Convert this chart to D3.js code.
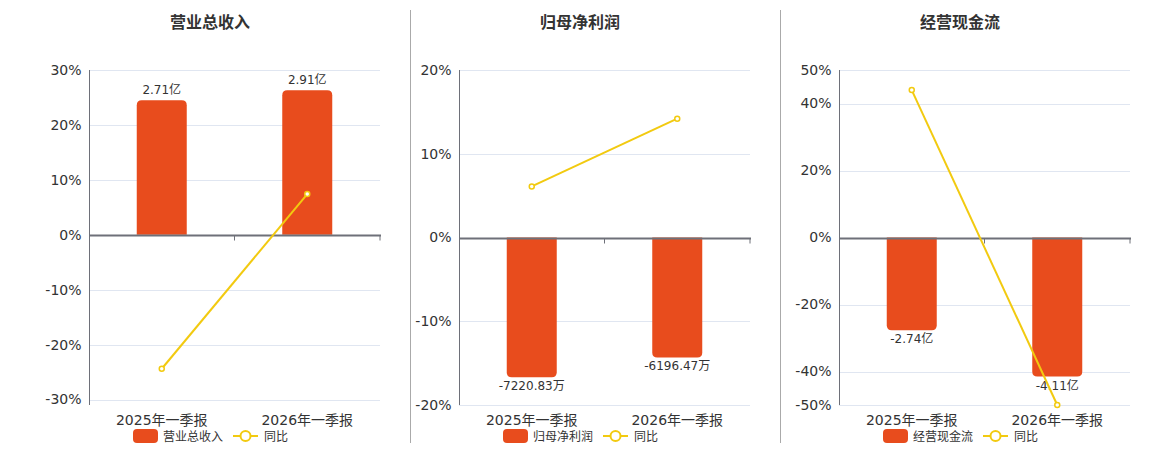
<!DOCTYPE html>
<html>
<head>
<meta charset="utf-8">
<script src="https://cdn.jsdelivr.net/npm/d3@7"></script>
<style>
  body { margin: 0; background: #fff; }
  svg { display: block; font-family: "DejaVu Sans", "Noto Sans CJK SC", sans-serif; }
</style>
</head>
<body>
<div id="chart"></div>
<script>
// 公共类目
const categories = ["2025年一季报", "2026年一季报"];

// 营业总收入（亿）
const revenueValues = [2.71, 2.91];
const revenueLabels = ["2.71亿", "2.91亿"];
const revenueYoy = [-24.4, 7.4];
const revenueTicks = [-30, -20, -10, 0, 10, 20, 30];

// 归母净利润（万）
const profitValues = [-7220.83, -6196.47];
const profitLabels = ["-7220.83万", "-6196.47万"];
const profitYoy = [6.1, 14.19];
const profitTicks = [-20, -10, 0, 10, 20];

// 经营现金流（亿）
const cashValues = [-2.74, -4.11];
const cashLabels = ["-2.74亿", "-4.11亿"];
const cashYoy = [44, -50];
const cashTicks = [-50, -40, -20, 0, 20, 40, 50];

const width = 1160, height = 450;
const barColor = "#e84c1d";
const lineColor = "#f2ca10";
const textColor = "#333";

const svg = d3.select("#chart").append("svg")
    .attr("width", width)
    .attr("height", height);

// 面板配置（位置与坐标范围）
const panels = [
    { title: "营业总收入", left: 89, pctDomain: [-31, 30], barDomain: [-3.43, 3.32],
      values: revenueValues, labels: revenueLabels, yoy: revenueYoy, ticks: revenueTicks },
    { title: "归母净利润", left: 459, pctDomain: [-20, 20], barDomain: [-8650, 8650],
      values: profitValues, labels: profitLabels, yoy: profitYoy, ticks: profitTicks },
    { title: "经营现金流", left: 839, pctDomain: [-50, 50], barDomain: [-4.95, 4.95],
      values: cashValues, labels: cashLabels, yoy: cashYoy, ticks: cashTicks }
];

const plotWidth = 291, plotTop = 70, plotBottom = 405;

// 面板之间的分隔线
[410.5, 780.5].forEach(x => {
    svg.append("line")
        .attr("x1", x).attr("x2", x)
        .attr("y1", 10).attr("y2", 443)
        .attr("stroke", "#aaa")
        .attr("stroke-width", 1);
});

// 圆角柱子路径（远离零线的一端为圆角）
function barPath(x, y0, y1, w, r) {
    const up = y1 < y0;
    const h = Math.abs(y1 - y0);
    r = Math.min(r, h, w / 2);
    if (up) {
        return `M${x},${y0} V${y1 + r} Q${x},${y1} ${x + r},${y1} H${x + w - r} Q${x + w},${y1} ${x + w},${y1 + r} V${y0} Z`;
    }
    return `M${x},${y0} V${y1 - r} Q${x},${y1} ${x + r},${y1} H${x + w - r} Q${x + w},${y1} ${x + w},${y1 - r} V${y0} Z`;
}

function drawPanel(p) {
    const g = svg.append("g");
    const x0 = p.left, x1 = p.left + plotWidth;

    const x = d3.scaleBand().domain(categories).range([x0, x1]);
    const y = d3.scaleLinear().domain(p.pctDomain).range([plotBottom, plotTop]);
    const yBar = d3.scaleLinear().domain(p.barDomain).range([plotBottom, plotTop]);

    // 标题
    g.append("text")
        .attr("x", x0 + 121).attr("y", 28)
        .attr("text-anchor", "middle")
        .attr("font-size", 16).attr("font-weight", "bold")
        .attr("fill", textColor)
        .text(p.title);

    // 网格线
    g.selectAll(".grid").data(p.ticks.filter(t => t !== 0)).enter().append("line")
        .attr("x1", x0).attr("x2", x1)
        .attr("y1", d => Math.round(y(d)) + 0.5).attr("y2", d => Math.round(y(d)) + 0.5)
        .attr("stroke", "#e0e6f1");

    // 纵轴
    const yAxis = g.append("g")
        .attr("transform", `translate(${x0 + 0.5},0)`)
        .call(d3.axisLeft(y).tickValues(p.ticks).tickSize(0).tickPadding(8).tickFormat(d => d + "%"));
    yAxis.select(".domain").attr("stroke", "#6e7079").attr("d", `M0,${plotTop}V${plotBottom}`);
    yAxis.selectAll("text")
        .attr("font-size", 14).attr("fill", textColor)
        .attr("font-family", "DejaVu Sans, sans-serif");

    // 柱子
    const bw = 50;
    g.selectAll(".bar").data(p.values).enter().append("path")
        .attr("d", (d, i) => barPath(x(categories[i]) + x.bandwidth() / 2 - bw / 2, yBar(0), yBar(d), bw, 5))
        .attr("fill", barColor);

    // 柱子标签
    g.selectAll(".bar-label").data(p.values).enter().append("text")
        .attr("x", (d, i) => x(categories[i]) + x.bandwidth() / 2)
        .attr("y", d => d >= 0 ? yBar(d) - 6 : yBar(d) + 13)
        .attr("text-anchor", "middle")
        .attr("font-size", 12).attr("fill", textColor)
        .text((d, i) => p.labels[i]);

    // 零线横轴
    const zeroY = Math.round(y(0)) + 0.5;
    g.append("line")
        .attr("x1", x0).attr("x2", x1 + 1)
        .attr("y1", zeroY).attr("y2", zeroY)
        .attr("stroke", "#6e7079").attr("stroke-width", 2);
    [x0 + x.bandwidth(), x1].forEach(tx => {
        g.append("line")
            .attr("x1", tx).attr("x2", tx)
            .attr("y1", zeroY).attr("y2", zeroY + 5)
            .attr("stroke", "#6e7079");
    });

    // 类目标签
    g.selectAll(".cat").data(categories).enter().append("text")
        .attr("x", d => x(d) + x.bandwidth() / 2)
        .attr("y", 425)
        .attr("text-anchor", "middle")
        .attr("font-size", 14).attr("fill", textColor)
        .text(d => d);

    // 同比折线
    const line = d3.line()
        .x((d, i) => x(categories[i]) + x.bandwidth() / 2)
        .y(d => y(d));
    g.append("path")
        .datum(p.yoy)
        .attr("d", line)
        .attr("fill", "none")
        .attr("stroke", lineColor)
        .attr("stroke-width", 2);
    g.selectAll(".pt").data(p.yoy).enter().append("circle")
        .attr("cx", (d, i) => x(categories[i]) + x.bandwidth() / 2)
        .attr("cy", d => y(d))
        .attr("r", 2.5)
        .attr("fill", "#fff")
        .attr("stroke", lineColor)
        .attr("stroke-width", 1.5);

    // 图例
    const legend = g.append("g");
    const lx = x0 + 44;
    legend.append("rect")
        .attr("x", lx).attr("y", 429)
        .attr("width", 25).attr("height", 14).attr("rx", 4)
        .attr("fill", barColor);
    const t1 = legend.append("text")
        .attr("x", lx + 30).attr("y", 440.5)
        .attr("font-size", 12).attr("fill", textColor)
        .text(p.title);
    const lx2 = lx + 30 + t1.node().getComputedTextLength() + 10;
    legend.append("line")
        .attr("x1", lx2).attr("x2", lx2 + 25)
        .attr("y1", 436).attr("y2", 436)
        .attr("stroke", lineColor).attr("stroke-width", 2);
    legend.append("circle")
        .attr("cx", lx2 + 12.5).attr("cy", 436).attr("r", 5)
        .attr("fill", "#fff").attr("stroke", lineColor).attr("stroke-width", 2);
    legend.append("text")
        .attr("x", lx2 + 31).attr("y", 440.5)
        .attr("font-size", 12).attr("fill", textColor)
        .text("同比");
}

panels.forEach(drawPanel);
</script>
</body>
</html>
